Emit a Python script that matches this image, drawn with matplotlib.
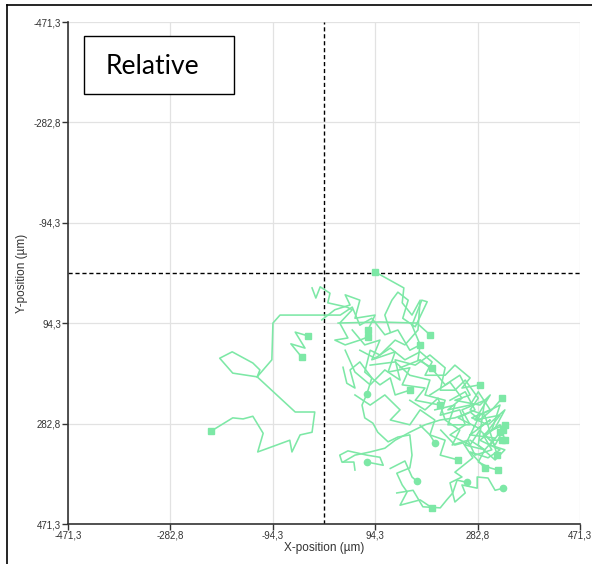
import matplotlib
matplotlib.use("Agg")
import matplotlib.pyplot as plt
from matplotlib.lines import Line2D
from matplotlib.patches import Rectangle

# axis range / ticks (µm)
lim = 471.3
ticks = [-471.3, -282.8, -94.3, 94.3, 282.8, 471.3]
tick_labels = ["-471,3", "-282,8", "-94,3", "94,3", "282,8", "471,3"]

# tracks (x, y in µm; y grows downwards)
track01_x = [-208, -168, -149, -131, -112, -122, -87, -63, -59, -44, -22, -17, -53, -123, -118, -131, -169, -192, -168, -123, -96, -94, -81, 30, 52, 66, 88, 112, 136, 158, 177]
track01_y = [297, 272, 274, 269, 301, 336, 323, 314, 336, 304, 299, 261, 261, 195, 182, 169, 148, 160, 188, 195, 163, 94, 79, 79, 64, 98, 85, 116, 107, 145, 135]
track02_x = [94, 147, 144, 162, 177, 173, 149, 131, 103, 85, 75, 103, 122, 131, 158]
track02_y = [-2, 28, 56, 79, 51, 107, 135, 126, 154, 145, 186, 210, 197, 229, 220]
track03_x = [122, 112, 125, 136, 155, 145, 168, 190, 180, 162, 177, 173, 199]
track03_y = [111, 79, 51, 36, 51, 85, 101, 54, 51, 98, 135, 163, 178]
track04_x = [-22, -15, -7, 11, 7, 42, 52, 29, 44, 20, 39, 66, 81]
track04_y = [28, 47, 26, 38, 56, 64, 69, 94, 122, 126, 135, 126, 120]
track05_x = [35, 57, 85, 112, 131, 158, 186, 214, 241, 269, 287, 309, 328]
track05_y = [355, 342, 336, 329, 314, 299, 285, 276, 272, 261, 276, 257, 235]
track06_x = [57, 55, 33, 29, 44, 79, 103, 109, 79]
track06_y = [370, 355, 355, 342, 334, 342, 346, 361, 355]
track07_x = [79, 70, 75, 90, 99, 118, 136, 158, 162, 158, 134, 144, 153, 140, 177, 199]
track07_y = [227, 248, 272, 282, 299, 317, 308, 304, 342, 366, 376, 398, 411, 436, 426, 441]
track08_x = [215, 241, 256, 274, 241, 254, 232, 241, 260, 254, 282, 282, 302, 315, 330]
track08_y = [295, 323, 319, 347, 374, 383, 394, 430, 413, 398, 404, 383, 385, 408, 404]
track09_x = [269, 296, 284, 306, 320]
track09_y = [314, 332, 355, 366, 370]
track10_x = [140, 177, 204, 223, 250, 269, 241, 287, 306, 278, 324, 296, 315, 330]
track10_y = [178, 163, 186, 210, 192, 229, 239, 248, 229, 276, 267, 304, 323, 295]
track11_x = [85, 131, 158, 195, 186, 223, 214, 250, 260, 232, 269, 287, 306, 328]
track11_y = [173, 167, 192, 201, 229, 239, 267, 257, 285, 304, 323, 295, 314, 314]
track12_x = [39, 57, 85, 112, 140, 131, 168, 195, 223, 214, 241, 260, 284, 269, 296, 319]
track12_y = [145, 186, 210, 182, 201, 163, 173, 154, 178, 220, 220, 201, 235, 257, 267, 342]
track13_x = [35, 42, 57, 48, 66, 88, 79]
track13_y = [177, 207, 216, 182, 167, 197, 227]
track14_x = [122, 149, 162, 171]
track14_y = [367, 353, 383, 391]
track15_x = [177, 195, 204]
track15_y = [286, 304, 319]
track16_x = [26, 103, 171, 195]
track16_y = [94, 92, 94, 116]
track17_x = [-30, -53, -35, -61, -41]
track17_y = [118, 111, 141, 133, 158]
track18_x = [195, 232, 254, 228, 269, 284, 306, 272, 302, 333, 315, 287, 324, 302, 269, 296]
track18_y = [229, 205, 235, 257, 248, 223, 257, 272, 285, 257, 291, 314, 332, 347, 336, 366]
track19_x = [158, 186, 210, 223, 250, 236, 265, 278, 309, 293, 324, 333]
track19_y = [239, 257, 235, 276, 295, 323, 314, 342, 332, 304, 285, 314]
track20_x = [57, 85, 112, 140, 122, 158, 177, 204, 195, 223, 214, 247]
track20_y = [229, 248, 229, 257, 276, 285, 257, 276, 304, 314, 342, 351]
track21_x = [66, 94, 122, 149, 177, 199, 186, 223, 241, 269, 254, 287]
track21_y = [145, 160, 141, 163, 148, 167, 192, 192, 173, 197, 216, 210]
track22_x = [134, 164, 182, 214, 226, 237, 245, 263]
track22_y = [413, 408, 439, 441, 426, 413, 389, 393]
track23_x = [232, 260, 278, 247, 284, 306, 269, 315, 296, 260, 287, 324, 309, 333]
track23_y = [239, 223, 257, 272, 291, 276, 304, 310, 332, 323, 267, 248, 295, 285]
track24_x = [204, 241, 228, 269, 254, 296, 284, 315, 333, 306, 324]
track24_y = [257, 248, 285, 285, 257, 239, 323, 351, 332, 323, 299]
track25_x = [52, 75, 103, 88, 131, 118, 158, 144, 186, 168, 214]
track25_y = [107, 135, 126, 163, 148, 186, 178, 210, 216, 239, 248]
track26_x = [-4, 20, 48, 39, 66, 57, 94, 81]
track26_y = [88, 69, 60, 41, 51, 85, 79, 107]

tracks = [
    (track01_x, track01_y), (track02_x, track02_y), (track03_x, track03_y),
    (track04_x, track04_y), (track05_x, track05_y), (track06_x, track06_y),
    (track07_x, track07_y), (track08_x, track08_y), (track09_x, track09_y),
    (track10_x, track10_y), (track11_x, track11_y), (track12_x, track12_y),
    (track13_x, track13_y), (track14_x, track14_y), (track15_x, track15_y),
    (track16_x, track16_y), (track17_x, track17_y), (track18_x, track18_y),
    (track19_x, track19_y), (track20_x, track20_y), (track21_x, track21_y),
    (track22_x, track22_y), (track23_x, track23_y), (track24_x, track24_y),
    (track25_x, track25_y), (track26_x, track26_y),
]
# which tracks get a circle at the end instead of a square
circle_end = {5, 7, 12, 13, 14, 21}
# which tracks also show a square at the start
start_marker = {0, 1, 16}

green = "#7de8a6"

plt.rcParams["font.family"] = ["Liberation Sans", "DejaVu Sans"]

fig = plt.figure(figsize=(5.92, 5.64), dpi=100)
ax = fig.add_axes([68 / 592, 40 / 564, 512 / 592, 502 / 564])

for i, (tx, ty) in enumerate(tracks):
    ax.plot(tx, ty, color=green, lw=1.15, zorder=3)
    m = "o" if i in circle_end else "s"
    ax.plot(tx[-1:], ty[-1:], marker=m, color=green, ms=4.5, ls="none", zorder=4)
    if i in start_marker:
        ax.plot(tx[:1], ty[:1], marker="s", color=green, ms=4.5, ls="none", zorder=4)

ax.axvline(0, color="black", lw=1.0, ls=(0, (3, 2)), zorder=2)
ax.axhline(0, color="black", lw=1.0, ls=(0, (3, 2)), zorder=2)

ax.set_xlim(-lim, lim)
ax.set_ylim(lim, -lim)
ax.set_xticks(ticks)
ax.set_xticklabels(tick_labels)
ax.set_yticks(ticks)
ax.set_yticklabels(tick_labels)
ax.tick_params(labelsize=7, colors="#333333", length=4, width=1, pad=1)
ax.grid(True, color="#e2e2e2", lw=0.9, zorder=0)
ax.set_axisbelow(True)
for s in ["top", "right"]:
    ax.spines[s].set_visible(False)
for s in ["left", "bottom"]:
    ax.spines[s].set_color("#333333")
    ax.spines[s].set_linewidth(1.2)

ax.set_xlabel("X-position (µm)", fontsize=8.5, color="#333333", labelpad=1)
ax.set_ylabel("Y-position (µm)", fontsize=8.5, color="#333333", labelpad=4)

# outer frame (left and top only)
fig.add_artist(Line2D([7 / 592, 7 / 592], [0, 1 - 5 / 564], color="black", lw=1.2))
fig.add_artist(Line2D([7 / 592, 1], [1 - 5 / 564, 1 - 5 / 564], color="black", lw=1.2))

# "Relative" label box
fig.add_artist(Rectangle((84 / 592, 1 - 94 / 564), 150 / 592, 58 / 564,
                         transform=fig.transFigure, fill=True, facecolor="white",
                         edgecolor="black", lw=1.0, zorder=5))
fig.text(106 / 592, 1 - 67 / 564, "Relative", fontsize=19, family="Lato",
         va="center", ha="left", zorder=6)

fig.savefig("out.png", dpi=100)
